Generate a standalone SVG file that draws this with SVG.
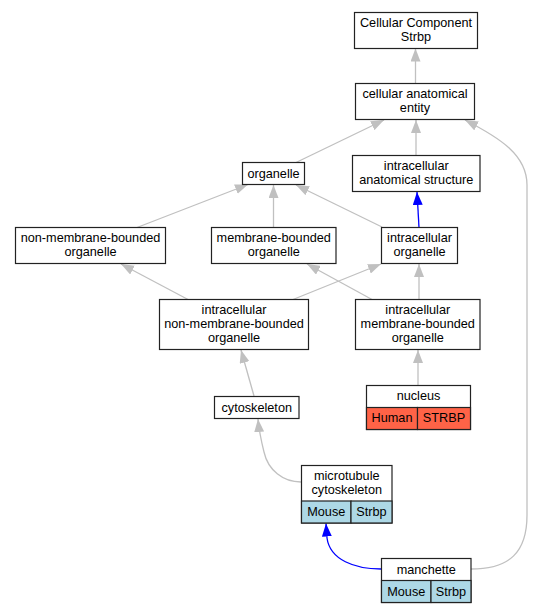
<svg xmlns="http://www.w3.org/2000/svg" width="536" height="613" viewBox="0 0 536 613">
<style>
  .box { fill: #ffffff; stroke: #222222; stroke-width: 1.2; }
  .cell { stroke: #222222; stroke-width: 1.2; }
  .human { fill: #ff6347; }
  .mouse { fill: #add8e6; }
  text { font-family: "Liberation Sans", Arial, sans-serif; font-size: 12.7px; fill: #000000; text-anchor: middle; }
  .e { fill: none; stroke: #c0c0c0; stroke-width: 1.3; marker-end: url(#ag); }
  .b { fill: none; stroke: #0000ff; stroke-width: 1.3; marker-end: url(#ab); }
</style>
<defs>
  <marker id="ag" viewBox="0 0 13 10" refX="13" refY="5" markerWidth="13" markerHeight="10" markerUnits="userSpaceOnUse" orient="auto">
    <path d="M0,0 L13,5 L0,10 z" fill="#c0c0c0"/>
  </marker>
  <marker id="ab" viewBox="0 0 13 10" refX="13" refY="5" markerWidth="13" markerHeight="10" markerUnits="userSpaceOnUse" orient="auto">
    <path d="M0,0 L13,5 L0,10 z" fill="#0000ff"/>
  </marker>
</defs>
<rect width="536" height="613" fill="#ffffff"/>
<g id="edges">
  <path class="e" d="M415.5,83 L415.5,48.5"/>
  <path class="e" d="M296,162.5 L384,120"/>
  <path class="e" d="M416,155 L416,120"/>
  <path class="e" d="M471,569 C510,569 527,552 527,515 L527,185 C527,155 500,138 465,120"/>
  <path class="e" d="M137,227.5 L248,184.5"/>
  <path class="e" d="M273.5,227.5 L273.5,185"/>
  <path class="e" d="M382,227 L296,185"/>
  <path class="b" d="M419,227.5 L417,192"/>
  <path class="e" d="M188,299.5 L121,264"/>
  <path class="e" d="M293,299.5 L381,264"/>
  <path class="e" d="M372,299.5 L307,264"/>
  <path class="e" d="M419,299.5 L419,264"/>
  <path class="e" d="M418,385.5 L418,350"/>
  <path class="e" d="M254,396 L241,350"/>
  <path class="e" d="M301,482 C283,482 268,470 264,452 C261,440 259,430 258,419"/>
  <path class="b" d="M381,569 C355,569 330,560 327,538 L326,523.5"/>
</g>
<g id="n1">
  <rect class="box" x="354.5" y="12.5" width="123" height="36"/>
  <text x="416" y="26.5">Cellular Component</text>
  <text x="416" y="40.5">Strbp</text>
</g>
<g id="n2">
  <rect class="box" x="355.5" y="83.5" width="119" height="36"/>
  <text x="415" y="97.5">cellular anatomical</text>
  <text x="415" y="111.5">entity</text>
</g>
<g id="n3">
  <rect class="box" x="242.5" y="162.5" width="62" height="22"/>
  <text x="273.5" y="177.5">organelle</text>
</g>
<g id="n4">
  <rect class="box" x="352.5" y="155.5" width="127.5" height="36"/>
  <text x="416.25" y="169.5">intracellular</text>
  <text x="416.25" y="183.5">anatomical structure</text>
</g>
<g id="n5">
  <rect class="box" x="15.5" y="227.5" width="150" height="36"/>
  <text x="90.5" y="241.5">non-membrane-bounded</text>
  <text x="90.5" y="255.5">organelle</text>
</g>
<g id="n6">
  <rect class="box" x="211.5" y="227.5" width="124.5" height="36"/>
  <text x="273.75" y="241.5">membrane-bounded</text>
  <text x="273.75" y="255.5">organelle</text>
</g>
<g id="n7">
  <rect class="box" x="381.5" y="227.5" width="76" height="36"/>
  <text x="419.5" y="241.5">intracellular</text>
  <text x="419.5" y="255.5">organelle</text>
</g>
<g id="n8">
  <rect class="box" x="159.5" y="299.5" width="149" height="50"/>
  <text x="234" y="313.5">intracellular</text>
  <text x="234" y="327.5">non-membrane-bounded</text>
  <text x="234" y="341.5">organelle</text>
</g>
<g id="n9">
  <rect class="box" x="355.5" y="299.5" width="124.5" height="50"/>
  <text x="417.75" y="313.5">intracellular</text>
  <text x="417.75" y="327.5">membrane-bounded</text>
  <text x="417.75" y="341.5">organelle</text>
</g>
<g id="n10">
  <rect class="box" x="366.5" y="385.5" width="104" height="44"/>
  <rect class="cell human" x="366.5" y="407.5" width="51" height="22"/>
  <rect class="cell human" x="417.5" y="407.5" width="53" height="22"/>
  <text x="418.5" y="400">nucleus</text>
  <text x="392" y="422">Human</text>
  <text x="444" y="422">STRBP</text>
</g>
<g id="n11">
  <rect class="box" x="214.5" y="396.5" width="84.5" height="22"/>
  <text x="256.75" y="411.5">cytoskeleton</text>
</g>
<g id="n12">
  <rect class="box" x="301.5" y="465.5" width="90.5" height="57.5"/>
  <rect class="cell mouse" x="301.5" y="501" width="49.5" height="22"/>
  <rect class="cell mouse" x="351" y="501" width="41" height="22"/>
  <text x="346.75" y="479.5">microtubule</text>
  <text x="346.75" y="493.5">cytoskeleton</text>
  <text x="326.25" y="516">Mouse</text>
  <text x="371.5" y="516">Strbp</text>
</g>
<g id="n13">
  <rect class="box" x="381.5" y="558.5" width="89.5" height="44"/>
  <rect class="cell mouse" x="381.5" y="580.5" width="49.5" height="22"/>
  <rect class="cell mouse" x="431" y="580.5" width="40" height="22"/>
  <text x="426.25" y="573.5">manchette</text>
  <text x="406.25" y="595.5">Mouse</text>
  <text x="451" y="595.5">Strbp</text>
</g>
</svg>
